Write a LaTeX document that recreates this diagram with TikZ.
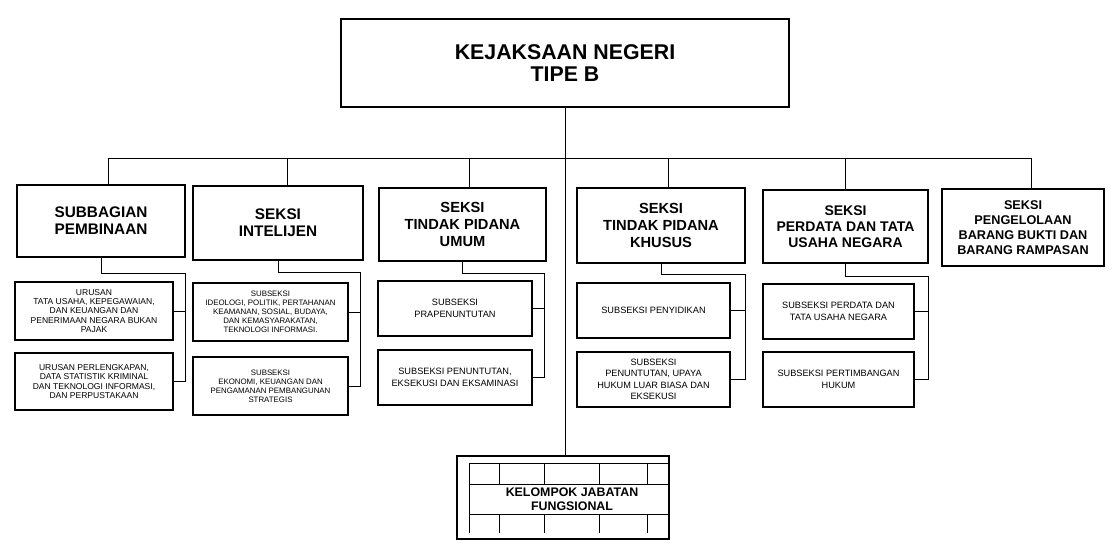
\documentclass[tikz,border=0pt]{standalone}
\usepackage{fontspec}
\setmainfont{Liberation Sans}
\usetikzlibrary{calc}
\tikzset{
  wh/.style 2 args={minimum width=#1*0.75pt, minimum height=#2*0.75pt},
  box/.style={draw, line width=0.9pt, align=center, inner sep=0pt},
  subbox/.style={draw, line width=0.8pt, align=center, inner sep=0pt},
  conn/.style={line width=0.6pt},
  gridline/.style={line width=0.7pt},
  ftop/.style={font=\fontsize{16}{16.5}\selectfont\bfseries},
  fa/.style={font=\fontsize{11.5}{12.8}\selectfont\bfseries},
  fb/.style={font=\fontsize{11}{13}\selectfont\bfseries},
  fc/.style={font=\fontsize{10.5}{12.2}\selectfont\bfseries},
  fd/.style={font=\fontsize{9.5}{11.2}\selectfont\bfseries},
  fs/.style={font=\fontsize{6.4}{6.9}\selectfont},
  fst/.style={font=\fontsize{5.9}{6.8}\selectfont},
  fsb/.style={font=\fontsize{6.9}{8.6}\selectfont},
  fk/.style={font=\fontsize{9.3}{10.7}\selectfont\bfseries},
}
\begin{document}
\begin{tikzpicture}[x=0.75pt,y=-0.75pt]
\useasboundingbox (0,0) rectangle (1116,554);
\fill[white] (0,0) rectangle (1116,554);

% top
\node[box, line width=1.2pt, wh={448}{88}, ftop] (top) at (565,63) {KEJAKSAAN NEGERI\\TIPE B};

% level 1
\node[box, wh={168}{72}, fa] (b1) at (101,221) {SUBBAGIAN\\PEMBINAAN};
\node[box, wh={170}{74}, fa] (b2) at (278,223) {SEKSI\\INTELIJEN};
\node[box, wh={167}{73}, fb] (b3) at (462.5,224.5) {SEKSI\\TINDAK PIDANA\\UMUM};
\node[box, wh={168}{75}, fb] (b4) at (661,225.5) {SEKSI\\TINDAK PIDANA\\KHUSUS};
\node[box, wh={165}{73}, fc] (b5) at (845.5,226.5) {SEKSI\\PERDATA DAN TATA\\USAHA NEGARA};
\node[box, wh={162}{77}, fd] (b6) at (1023,227.5) {SEKSI\\PENGELOLAAN\\BARANG BUKTI DAN\\BARANG RAMPASAN};

% sub boxes
\node[subbox, wh={158}{58}, fs] (s1a) at (94,311) {URUSAN\\TATA USAHA, KEPEGAWAIAN,\\DAN KEUANGAN DAN\\PENERIMAAN NEGARA BUKAN\\PAJAK};
\node[subbox, wh={158}{57}, fs] (s1b) at (94,381.5) {URUSAN PERLENGKAPAN,\\DATA STATISTIK KRIMINAL\\DAN TEKNOLOGI INFORMASI,\\DAN PERPUSTAKAAN};
\node[subbox, wh={155}{58}, fst] (s2a) at (270.5,312) {SUBSEKSI\\IDEOLOGI, POLITIK, PERTAHANAN\\KEAMANAN, SOSIAL, BUDAYA,\\DAN KEMASYARAKATAN,\\TEKNOLOGI INFORMASI.};
\node[subbox, wh={155}{58}, fst] (s2b) at (270.5,386) {SUBSEKSI\\EKONOMI, KEUANGAN DAN\\PENGAMANAN PEMBANGUNAN\\STRATEGIS};
\node[subbox, wh={154}{55}, fsb] (s3a) at (455,308.5) {SUBSEKSI\\PRAPENUNTUTAN};
\node[subbox, wh={154}{55}, fsb] (s3b) at (455,377.5) {SUBSEKSI PENUNTUTAN,\\EKSEKUSI DAN EKSAMINASI};
\node[subbox, wh={153}{55}, fsb] (s4a) at (653.5,310.5) {SUBSEKSI PENYIDIKAN};
\node[subbox, wh={153}{55}, fsb] (s4b) at (653.5,379.5) {SUBSEKSI\\PENUNTUTAN, UPAYA\\HUKUM LUAR BIASA DAN\\EKSEKUSI};
\node[subbox, wh={151}{55}, fsb] (s5a) at (838.5,311.5) {SUBSEKSI PERDATA DAN\\TATA USAHA NEGARA};
\node[subbox, wh={151}{55}, fsb] (s5b) at (838.5,379.5) {SUBSEKSI PERTIMBANGAN\\HUKUM};

% kelompok
\node[box, wh={212}{83}] (kel) at (563,497.5) {};
\draw[gridline] (469,533) -- (469,463) -- (668,463);
\draw[gridline] (469,484) -- (668,484);
\draw[gridline] (469,514) -- (668,514);
\foreach \gx in {499,544,599,647}{
  \draw[gridline] (\gx,463) -- (\gx,484);
  \draw[gridline] (\gx,514) -- (\gx,533);
}
\node[fk, align=center, inner sep=0pt] (kt) at (572,499.5) {KELOMPOK JABATAN\\FUNGSIONAL};

% connectors
\coordinate (bus) at (0,158);
\draw[conn] (top.south) -- (top.south |- kel.north);
\draw[conn] ([xshift=5.25pt]b1.north) -- ([xshift=5.25pt]b1.north |- bus) -- ([xshift=6pt]b6.north |- bus) -- ([xshift=6pt]b6.north);
\draw[conn] ([xshift=6.75pt]b2.north) -- ([xshift=6.75pt]b2.north |- bus);
\draw[conn] ([xshift=5.25pt]b3.north) -- ([xshift=5.25pt]b3.north |- bus);
\draw[conn] ([xshift=5.25pt]b4.north) -- ([xshift=5.25pt]b4.north |- bus);
\draw[conn] (b5.north) -- (b5.north |- bus);

\draw[conn] (b1.south) -- ++(0,16) -| ($(s1b.east)+(12,0)$) -- (s1b.east);
\draw[conn] (s1a.east) -- ++(12,0);
\draw[conn] (b2.south) -- ++(0,12) -| ($(s2b.east)+(12,0)$) -- (s2b.east);
\draw[conn] (s2a.east) -- ++(12,0);
\draw[conn] (b3.south) -- ++(0,12) -| ($(s3b.east)+(12,0)$) -- (s3b.east);
\draw[conn] (s3a.east) -- ++(12,0);
\draw[conn] (b4.south) -- ++(0,11) -| ($(s4b.east)+(15,0)$) -- (s4b.east);
\draw[conn] (s4a.east) -- ++(15,0);
\draw[conn] (b5.south) -- ++(0,13) -| ($(s5b.east)+(14,0)$) -- (s5b.east);
\draw[conn] (s5a.east) -- ++(14,0);
\end{tikzpicture}
\end{document}
